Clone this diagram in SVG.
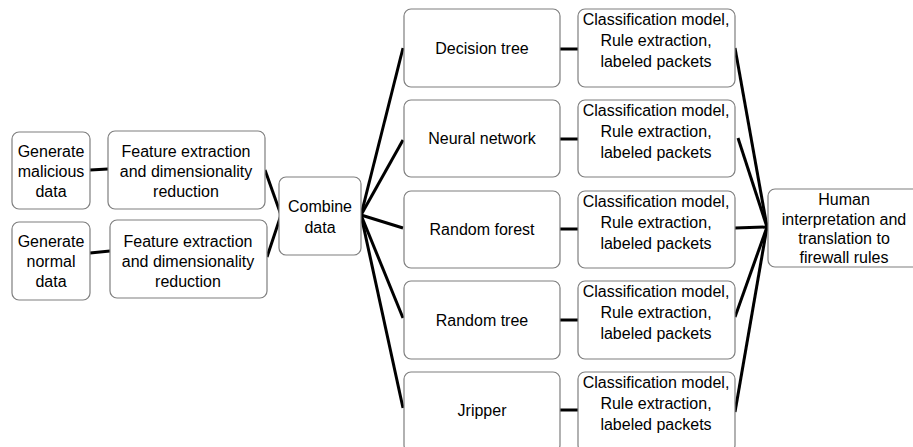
<svg xmlns="http://www.w3.org/2000/svg" width="913" height="447" viewBox="0 0 913 447">
<style>
.box{fill:#fff;stroke:#7f7f7f;stroke-width:1.2}
text{font-family:"Liberation Sans",Arial,sans-serif;font-size:16px;fill:#000;text-anchor:middle}
.c line{stroke:#000;stroke-width:3;stroke-linecap:butt}
</style>
<rect width="913" height="447" fill="#fff"/>
<g class="c" id="connectors">
<line x1="90" y1="170" x2="108" y2="169"/>
<line x1="90" y1="253" x2="110" y2="251"/>
<line x1="265" y1="170" x2="281" y2="215"/>
<line x1="267" y1="257" x2="281" y2="215"/>
<line x1="361" y1="215" x2="403" y2="48"/>
<line x1="361" y1="215" x2="403" y2="140"/>
<line x1="361" y1="215" x2="403" y2="228"/>
<line x1="361" y1="215" x2="403" y2="318"/>
<line x1="361" y1="215" x2="403" y2="408"/>
<line x1="560" y1="49" x2="578" y2="49"/>
<line x1="560" y1="139" x2="578" y2="139"/>
<line x1="560" y1="229" x2="578" y2="229"/>
<line x1="560" y1="320" x2="578" y2="320"/>
<line x1="560" y1="410" x2="578" y2="410"/>
<line x1="735" y1="48" x2="767" y2="227"/>
<line x1="738" y1="138" x2="767" y2="227"/>
<line x1="735" y1="228" x2="767" y2="227"/>
<line x1="735" y1="317" x2="767" y2="227"/>
<line x1="735" y1="412" x2="767" y2="227"/>
</g>
<g id="gen-malicious"><rect class="box" x="12" y="132" width="78" height="77" rx="7"/>
<text x="51" y="157">Generate</text><text x="51" y="177">malicious</text><text x="51" y="197">data</text></g>
<g id="gen-normal"><rect class="box" x="12" y="222" width="78" height="78" rx="7"/>
<text x="51" y="247">Generate</text><text x="51" y="267">normal</text><text x="51" y="287">data</text></g>
<g id="feat-1"><rect class="box" x="108" y="131" width="157" height="78" rx="7"/>
<text x="186" y="157">Feature extraction</text><text x="186" y="177">and dimensionality</text><text x="186" y="197">reduction</text></g>
<g id="feat-2"><rect class="box" x="110" y="220" width="157" height="78" rx="7"/>
<text x="188" y="247">Feature extraction</text><text x="188" y="267">and dimensionality</text><text x="188" y="287">reduction</text></g>
<g id="combine"><rect class="box" x="279" y="177" width="82" height="78" rx="7"/>
<text x="320" y="212">Combine</text><text x="320" y="233">data</text></g>
<g id="dt"><rect class="box" x="404" y="9" width="156" height="78" rx="7"/><text x="482" y="54">Decision tree</text></g>
<g id="nn"><rect class="box" x="404" y="100" width="156" height="77" rx="7"/><text x="482" y="144">Neural network</text></g>
<g id="rf"><rect class="box" x="404" y="191" width="156" height="77" rx="7"/><text x="482" y="235">Random forest</text></g>
<g id="rt"><rect class="box" x="404" y="281" width="156" height="78" rx="7"/><text x="482" y="326">Random tree</text></g>
<g id="jr"><rect class="box" x="404" y="372" width="156" height="80" rx="7"/><text x="482" y="416">Jripper</text></g>
<g id="cm1"><rect class="box" x="578" y="9" width="157" height="78" rx="7"/>
<text x="656" y="25">Classification model,</text><text x="656" y="46">Rule extraction,</text><text x="656" y="67">labeled packets</text></g>
<g id="cm2"><rect class="box" x="578" y="100" width="157" height="77" rx="7"/>
<text x="656" y="116">Classification model,</text><text x="656" y="137">Rule extraction,</text><text x="656" y="158">labeled packets</text></g>
<g id="cm3"><rect class="box" x="578" y="191" width="157" height="77" rx="7"/>
<text x="656" y="207">Classification model,</text><text x="656" y="228">Rule extraction,</text><text x="656" y="249">labeled packets</text></g>
<g id="cm4"><rect class="box" x="578" y="281" width="157" height="78" rx="7"/>
<text x="656" y="297">Classification model,</text><text x="656" y="318">Rule extraction,</text><text x="656" y="339">labeled packets</text></g>
<g id="cm5"><rect class="box" x="578" y="372" width="157" height="80" rx="7"/>
<text x="656" y="388">Classification model,</text><text x="656" y="409">Rule extraction,</text><text x="656" y="430">labeled packets</text></g>
<g id="human"><rect class="box" x="768" y="189" width="152" height="78" rx="7"/>
<text x="844" y="205">Human</text><text x="844" y="225">interpretation and</text><text x="844" y="244">translation to</text><text x="844" y="263">firewall rules</text></g>
</svg>
